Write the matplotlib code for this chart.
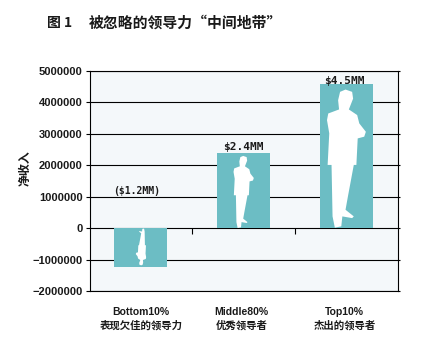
import matplotlib
matplotlib.use("Agg")
import matplotlib.pyplot as plt
from matplotlib.patches import Polygon
from matplotlib.transforms import ScaledTranslation

plt.rcParams['font.family'] = ['Liberation Sans', 'Noto Sans CJK SC']

# data
categories = ['Bottom10%\n表现欠佳的领导力', 'Middle80%\n优秀领导者', 'Top10%\n杰出的领导者']
values = [-1220000, 2390000, 4580000]
value_labels = ['($1.2MM)', '$2.4MM', '$4.5MM']
yticks = [-2000000, -1000000, 0, 1000000, 2000000, 3000000, 4000000, 5000000]
ytick_labels = ['−2000000', '−1000000', '0', '1000000', '2000000', '3000000', '4000000', '5000000']

# outline of the standing man, as fractions of the tallest bar (feet at 0, head near 1)
man_x = [.48, .605, .623, .543, .70, .74, .864, .833, .71, .685, .636, .525, .48, .636, .605, .42,
         .40, .278, .235, .216, .142, .173, .13, .154, .358, .34, .377]
man_y = [.963, .947, .90, .825, .786, .728, .67, .636, .624, .44, .44, .221, .129, .083, .071, .083,
         .014, .005, .083, .44, .44, .659, .751, .797, .825, .889, .947]

# small shifts of the texts, in pixels
label_dx = [-4, 0, -2.5]
label_dy = [1, 1, -2]
cat_dx = [0, -2, -2]

fig = plt.figure(figsize=(4.22, 3.56), dpi=100)
ax = fig.add_axes([89.5 / 422, 1 - 291.3 / 356, 308.5 / 422, 220.3 / 356])
ax.set_facecolor('#f4f8fa')

ax.set_xlim(-0.5, 2.5)
ax.set_ylim(-2000000, 5000000)
ax.set_yticks(yticks)
ax.set_yticklabels(ytick_labels, fontsize=8, fontweight='bold', color='#1a1a1a')
ax.tick_params(axis='y', length=3, width=0.8, left=True, right=True, pad=2)
for t in ax.yaxis.get_major_ticks():
    t.tick2line.set_markersize(1.5)
ax.yaxis.grid(True, color='black', linewidth=0.8)
ax.set_axisbelow(True)

# 目盛りはゼロの線の上、ラベルは棒の下
ax.set_xticks([0, 1, 2])
ax.set_xticklabels(categories, fontsize=7.5, fontweight='bold', color='#1a1a1a', linespacing=1.45)
ax.tick_params(axis='x', length=0, pad=11)
for lab, dx in zip(ax.get_xticklabels(), cat_dx):
    lab.set_transform(lab.get_transform() + ScaledTranslation(dx / 100, 0, fig.dpi_scale_trans))
ax.plot([0.5, 1.5], [0, 0], linestyle='none', marker=3, markersize=4, markeredgewidth=0.8,
        color='black', zorder=2)

for s in ax.spines.values():
    s.set_linewidth(0.8)
    s.set_color('black')

bars = ax.bar(range(3), values, width=0.515, color='#6cbdc4', zorder=3)

for b, v, lab, dx, dy in zip(bars, values, value_labels, label_dx, label_dy):
    x0 = b.get_x() + b.get_width() / 2
    h = abs(v)
    # the man shrinks with the bar; under zero he is turned upside down (rotated, so x flips too)
    scale = h / max(values)
    sign = 1 if v > 0 else -1
    pts = [(x0 + sign * (mx - 0.5) * 0.515 * scale, sign * my * max(values) * scale)
           for mx, my in zip(man_x, man_y)]
    ax.add_patch(Polygon(pts, closed=True, facecolor='white', edgecolor='none', zorder=4))
    ly = v if v > 0 else 1000000
    ax.annotate(lab, (x0, ly), xytext=(dx * 0.72, dy * 0.72), textcoords='offset points',
                ha='center', va='bottom', fontsize=7 if v < 0 else 8, fontweight='bold',
                family=['DejaVu Sans Mono'], color='#1a1a1a', zorder=5)

fig.text(25 / 422, 1 - 168 / 356, '净收入', fontsize=8.6, fontweight='bold', color='#1a1a1a',
         rotation=90, ha='center', va='center', family=['Noto Sans CJK SC'])

fig.text(47 / 422, 1 - 22.5 / 356, '图 1', fontsize=10, fontweight='bold', color='#1a1a1a',
         va='center', family=['Noto Sans CJK SC'])
fig.text(89 / 422, 1 - 22.5 / 356, '被忽略的领导力“中间地带”', fontsize=10.7, fontweight='bold',
         color='#1a1a1a', va='center', family=['Noto Sans CJK SC'])

fig.savefig('out.png', dpi=100)
